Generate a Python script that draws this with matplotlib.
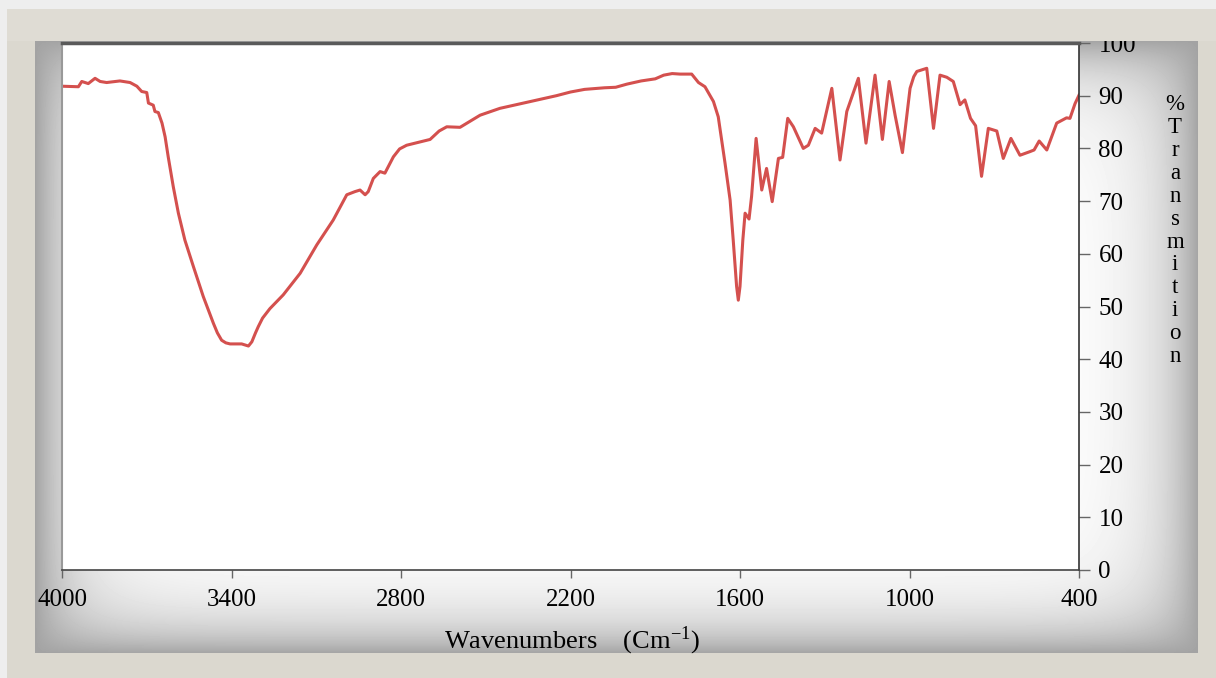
import numpy as np
import matplotlib.pyplot as plt
from matplotlib.patches import Rectangle

# FTIR spectrum
wavenumber = [4000, 3942, 3930, 3907, 3883, 3865, 3842, 3795, 3759, 3735, 3718, 3700, 3694,
              3677, 3671, 3659, 3646, 3635, 3624, 3606, 3588, 3565, 3535, 3500, 3464, 3450,
              3435, 3420, 3405, 3364, 3340, 3328, 3315, 3305, 3290, 3264, 3217, 3157,
              3098, 3040, 2992, 2963, 2945, 2927, 2916, 2898, 2874, 2857, 2827, 2805,
              2780, 2697, 2665, 2638, 2591, 2520, 2450, 2350, 2250, 2200, 2150, 2080,
              2040, 2000, 1950, 1900, 1870, 1840, 1812, 1771, 1747, 1724, 1694, 1677,
              1653, 1635, 1624, 1612, 1606, 1600, 1590, 1582, 1568, 1559, 1543, 1523,
              1506, 1486, 1464, 1449, 1431, 1411, 1376, 1358, 1334, 1311, 1275, 1246,
              1222, 1181, 1154, 1122, 1096, 1072, 1051, 1025, 998, 985, 974, 939, 915,
              892, 868, 845, 821, 804, 784, 766, 745, 721, 691, 668, 641, 609, 573, 559,
              541, 514, 479, 444, 432, 414, 400]
transmission = [91.8, 91.7, 92.7, 92.3, 93.3, 92.7, 92.5, 92.8, 92.5, 91.8, 90.8, 90.6, 88.6,
                88.2, 87.0, 86.8, 84.8, 82.2, 78.4, 72.7, 67.7, 62.6, 57.6, 51.9, 46.8, 45.0,
                43.6, 43.1, 42.9, 42.9, 42.5, 43.3, 45.0, 46.2, 47.8, 49.6, 52.2, 56.3,
                61.7, 66.4, 71.2, 71.8, 72.1, 71.2, 71.8, 74.3, 75.6, 75.3, 78.4, 79.9,
                80.6, 81.7, 83.3, 84.1, 84.0, 86.3, 87.6, 88.8, 90.0, 90.7, 91.2, 91.5,
                91.6, 92.2, 92.8, 93.2, 93.9, 94.2, 94.1, 94.1, 92.5, 91.7, 88.9, 86.0,
                77.2, 70.2, 62.6, 53.8, 51.2, 53.8, 62.6, 67.7, 66.6, 70.9, 81.9, 72.1,
                76.2, 69.9, 78.1, 78.3, 85.7, 84.1, 80.0, 80.6, 83.8, 82.9, 91.4, 77.8,
                87.0, 93.3, 81.0, 93.9, 81.7, 92.7, 86.3, 79.2, 91.4, 93.6, 94.6, 95.2, 83.8,
                93.9, 93.5, 92.7, 88.3, 89.2, 85.7, 84.3, 74.7, 83.8, 83.3, 78.1, 81.9, 78.7,
                79.4, 79.7, 81.4, 79.7, 84.8, 85.8, 85.7, 88.5, 90.1]

x_ticks = [4000, 3400, 2800, 2200, 1600, 1000, 400]
y_ticks = [0, 10, 20, 30, 40, 50, 60, 70, 80, 90, 100]

W, H = 1216, 678
plt.rcParams['font.family'] = ['Liberation Serif', 'DejaVu Serif']
plt.rcParams['mathtext.fontset'] = 'stix'

fig = plt.figure(figsize=(W / 100, H / 100), dpi=100)
fig.patch.set_facecolor('#eeeeee')

def fx(px):
    return px / W

def fy(py):
    return 1 - py / H

# beige frame
fig.patches.append(Rectangle((fx(7), 0), 1 - fx(7), fy(9), transform=fig.transFigure,
                             facecolor='#dbd8cf', edgecolor='none', zorder=-5))

# vignette panel behind the plot (white, greying towards its edges)
pw, ph = 1198 - 35, 653 - 40
bg = fig.add_axes([fx(35), fy(653), fx(pw), ph / H], zorder=-2)
xx = np.arange(pw)
yy = np.arange(ph)
X, Y = np.meshgrid(xx, yy)
dx = np.minimum(X, pw - X)
dy = np.minimum(Y, ph - Y)
gx = np.exp(-dx / 40.0)
gy = np.exp(-dy / 36.0)
g = 1 - (1 - gx) * (1 - gy)
shade = 1 - 0.36 * g
bg.imshow(shade, cmap='gray', vmin=0, vmax=1, aspect='auto', interpolation='bilinear')
bg.axis('off')

ax = fig.add_axes([fx(62), fy(570), fx(1079 - 62), (570 - 43) / H], zorder=1)
ax.set_facecolor('white')
ax.plot(wavenumber, transmission, color='#d4504e', lw=2.2, solid_joinstyle='round')

ax.set_xlim(4000, 400)
ax.set_ylim(0, 100)
ax.set_xticks(x_ticks)
ax.set_yticks(y_ticks)
ax.tick_params(axis='x', direction='out', length=6, width=1, color='#666666',
               labelsize=18, pad=8)
ax.tick_params(axis='y', left=False, labelleft=False, right=True, labelright=True,
               direction='out', length=8, width=1, color='#666666', labelsize=18, pad=6)

ax.spines['top'].set_color('#5a5a5a')
ax.spines['top'].set_linewidth(2.5)
ax.spines['right'].set_color('#333333')
ax.spines['right'].set_linewidth(1.2)
ax.spines['bottom'].set_color('#444444')
ax.spines['bottom'].set_linewidth(1.2)
ax.spines['left'].set_color('#999999')
ax.spines['left'].set_linewidth(1.5)

# beige band that hides the top of the "100" label
fig.patches.append(Rectangle((fx(7), fy(41)), 1 - fx(7), (41 - 9) / H,
                             transform=fig.transFigure, facecolor='#dfdcd4',
                             edgecolor='none', zorder=10))

fig.text(fx(572), fy(641), r'Wavenumbers    (Cm$^{\mathregular{-1}}$)', ha='center',
         va='center', fontsize=19, zorder=11)
fig.text(fx(1175), fy(94), '%\nT\nr\na\nn\ns\nm\ni\nt\ni\no\nn', ha='center', va='top',
         fontsize=16.5, linespacing=1.12, zorder=11)

fig.savefig('out.png', dpi=100, facecolor=fig.get_facecolor())
